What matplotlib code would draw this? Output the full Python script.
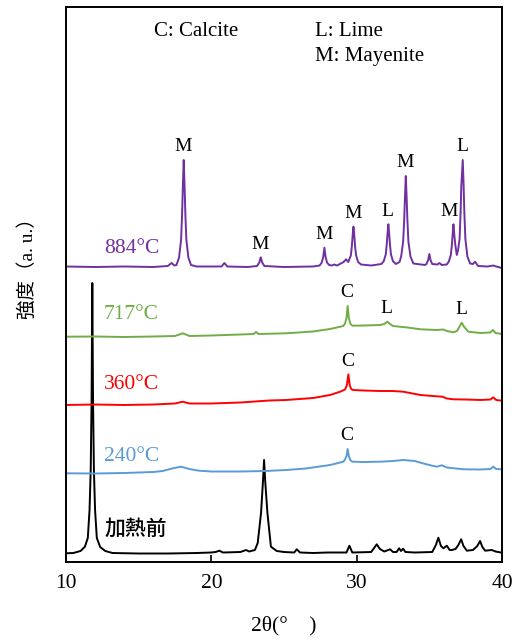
import numpy as np
import matplotlib
matplotlib.use("Agg")
import matplotlib.pyplot as plt

SERIF = ["Liberation Serif", "Noto Sans CJK JP", "DejaVu Sans"]
plt.rcParams["font.family"] = SERIF

# --- XRD traces (2theta, stacked intensity in a.u.) ---
tt_884 = [10.0, 12.0, 14.0, 16.0, 17.0, 17.27, 17.45, 17.6, 17.78, 17.92, 17.99, 18.04, 18.10,
          18.16, 18.21, 18.28, 18.42, 18.6, 19.0, 20.0, 20.7, 20.9, 21.1, 22.5, 23.15, 23.3,
          23.40, 23.5, 23.65, 25.0, 27.0, 27.45, 27.6, 27.7, 27.78, 27.86, 27.96, 28.1, 28.3,
          28.45, 28.65, 29.1, 29.27, 29.42, 29.6, 29.67, 29.72, 29.78, 29.84, 29.89, 29.96,
          30.1, 30.3, 31.0, 31.7, 31.86, 32.0, 32.07, 32.12, 32.18, 32.24, 32.29, 32.36, 32.5,
          32.7, 32.95, 33.06, 33.2, 33.27, 33.32, 33.38, 33.44, 33.49, 33.56, 33.7, 33.9, 34.7,
          34.8, 34.92, 35.0, 35.08, 35.2, 35.55, 35.7, 35.85, 36.2, 36.34, 36.48, 36.55, 36.6,
          36.66, 36.72, 36.78, 36.89, 36.98, 37.08, 37.15, 37.2, 37.30, 37.36, 37.41, 37.48,
          37.62, 37.8, 38.0, 38.15, 38.35, 39.0, 39.4, 39.6, 40.0]
int_884 = [295.5, 295.0, 295.5, 295.0, 296.0, 299.0, 296.5, 297.0, 304.5, 322.5, 349, 375.5, 402,
           375.5, 349, 322.5, 304.5, 297, 295.5, 295.5, 295.5, 299, 295.5, 295, 296, 299.5,
           304.7, 299.5, 296, 295, 295.5, 296.5, 299.5, 305, 314.3, 305, 299.5, 297, 296.5,
           297.5, 296.5, 300, 302.7, 300, 306.6, 316, 326, 335.3, 326, 316, 306.6,
           300, 297.5, 296.5, 298, 300.7, 307.5, 317.5, 327.7, 337.7, 327.7, 317.5, 307.5, 300.7,
           298, 300, 305.5, 320.5, 342, 364, 386, 364, 342, 320.5, 305.5, 298.5, 297,
           298, 302, 308, 302, 298, 297.5, 299, 297, 297.5, 300.5, 307, 317, 327,
           337.7, 327, 318, 307, 312, 323, 349, 376, 402, 376, 349, 323,
           305.5, 298.5, 298, 300.3, 296, 295.5, 296.5, 295.5, 294]

tt_717 = [10.0, 12.0, 14.0, 16.0, 17.5, 18.03, 18.5, 20.0, 22.0, 22.9, 23.08, 23.25, 25.14,
          27.0, 28.17, 29.08, 29.2, 29.3, 29.38, 29.46, 29.56, 29.7, 30.5, 31.6, 31.9, 32.1,
          32.3, 32.5, 33.5, 34.4, 35.5, 35.97, 36.2, 36.66, 36.9, 37.1, 37.23, 37.4, 37.69,
          38.5, 39.2, 39.37, 39.55, 40.0]
int_717 = [225.3, 225.5, 225.0, 225.5, 226, 228.7, 226, 226.5, 227.5, 228, 230, 228, 228.7,
           230.5, 233, 236, 238.5, 244, 256, 244, 238.5, 236.3, 236.5, 237, 238, 240.3,
           238, 236, 234.5, 232.7, 232, 232.5, 231, 229.7, 231, 236, 239.3, 235, 230.3,
           229, 229.5, 232, 229, 228]

tt_360 = [10.0, 12.0, 14.0, 16.0, 17.5, 18.03, 18.5, 20.0, 22.0, 24.0, 25.14, 27.0, 28.17,
          28.9, 29.2, 29.33, 29.43, 29.52, 29.62, 29.75, 30.5, 31.6, 32.5, 33.2, 34.4, 35.5,
          35.9, 36.2, 36.66, 37.5, 38.5, 39.2, 39.4, 39.6, 40.0]
int_360 = [157, 157.5, 157, 157.5, 158.5, 160.3, 158.5, 158.5, 159.5, 161.5, 162, 164, 167,
           170.5, 172.5, 177, 187.7, 177, 173, 172, 171.5, 171, 171, 170.3, 167, 165.7,
           165.3, 163.5, 162.7, 162.5, 162, 162.5, 164.7, 162, 161.3]

tt_240 = [10.0, 12.0, 14.0, 16.0, 16.65, 17.3, 17.9, 18.5, 19.15, 20.0, 22.0, 23.76, 25.14,
          26.5, 28.17, 29.08, 29.2, 29.3, 29.38, 29.46, 29.56, 29.7, 30.5, 31.61, 32.5, 33.2,
          34.0, 34.4, 35.0, 35.5, 35.86, 36.2, 37.35, 38.5, 39.2, 39.4, 39.6, 40.0]
int_240 = [88.7, 88.5, 89, 90, 91, 93.5, 95.3, 93, 91.3, 90.5, 90.5, 91, 92,
           93.5, 97, 100.3, 102.5, 106, 113, 106, 102, 100.3, 100, 100.3, 101, 102,
           101, 99.3, 97, 95.3, 96.7, 94.5, 92.7, 92.5, 93, 95.3, 93, 92.7]

tt_raw = [10.0, 10.5, 11.0, 11.3, 11.5, 11.62, 11.70, 11.76, 11.81, 11.86, 11.92, 12.0, 12.12,
          12.35, 12.7, 13.2, 15.0, 17.0, 19.0, 19.98, 20.3, 20.55, 20.8, 22.0, 22.39, 22.6,
          23.0, 23.19, 23.42, 23.55, 23.63, 23.71, 23.86, 24.1, 24.5, 25.0, 25.7, 25.88, 26.1,
          27.0, 28.0, 29.3, 29.5, 29.7, 31.0, 31.2, 31.38, 31.6, 31.9, 32.3, 32.5, 32.75,
          32.92, 33.05, 33.2, 33.35, 34.0, 35.2, 35.45, 35.62, 35.8, 35.97, 36.2, 36.4, 36.54,
          36.8, 37.0, 37.19, 37.35, 37.58, 38.0, 38.3, 38.49, 38.65, 38.84, 39.3, 39.55, 40.0]
int_raw = [8.7, 9.0, 11, 15.3, 24, 52, 92, 162, 279, 162, 92, 52, 24,
           15, 11, 9, 8.5, 8.5, 9, 9.5, 10, 11.3, 9.5, 10, 12, 10.5,
           12, 19, 49, 80, 102, 80, 49, 15.3, 11, 10, 9.5, 12.7, 9.5,
           9, 9.5, 9.5, 16.3, 9.5, 10, 14, 17.7, 13, 10.5, 12.7, 10, 10,
           13.7, 11, 13.3, 10, 9.5, 10, 17, 24.3, 16, 13.7, 16.3, 12, 12,
           13, 17, 22.7, 16, 11.3, 12, 16, 21, 15, 11.3, 12, 10.5, 9.3]

# peak assignments per trace: (2theta of peak, phase letter)
peaks_raw = []
peaks_240 = [(29.38, "C")]
peaks_360 = [(29.43, "C")]
peaks_717 = [(29.38, "C"), (32.1, "L"), (37.23, "L")]
peaks_884 = [(18.10, "M"), (23.40, "M"), (27.78, "M"), (29.78, "M"), (32.18, "L"),
             (33.38, "M"), (36.66, "M"), (37.30, "L")]

names = ["加熱前", "240\u00b0C", "360\u00b0C", "717\u00b0C", "884\u00b0C"]
colors = ["black", "#5B9BD5", "#FF0000", "#70AD47", "#7030A0"]
tts = [tt_raw, tt_240, tt_360, tt_717, tt_884]
ints = [int_raw, int_240, int_360, int_717, int_884]
peak_sets = [peaks_raw, peaks_240, peaks_360, peaks_717, peaks_884]
name_dy = [25.0, 17.0, 20.3, 22.4, 18.4]   # label height above each trace's left end

fig = plt.figure(figsize=(5.2, 6.42), dpi=100)
ax = fig.add_axes([66 / 520, 1 - 562 / 642, 436 / 520, 555 / 642])

for tt, yy, col, name, dy, pk in zip(tts, ints, colors, names, name_dy, peak_sets):
    ax.plot(tt, yy, color=col, lw=1.4, solid_joinstyle="round")
    if name == "加熱前":
        ax.text(12.62, yy[0] + dy, name, color=col, fontsize=15, weight="medium",
                family=["Noto Sans CJK JP"], va="center", ha="left")
    else:
        ax.text(12.6, yy[0] + dy, name, color=col, fontsize=15.5,
                va="center", ha="left")
    tt_a = np.array(tt)
    yy_a = np.array(yy)
    for p, letter in pk:
        top = yy_a[np.abs(tt_a - p) < 0.04].max()
        dx = -0.3 if (letter == "M" and abs(p - 36.66) < 0.05) else -0.05
        ax.annotate(letter, (p + dx, top), xytext=(0, 9.5), textcoords="offset points",
                    ha="center", va="center", fontsize=14)

ax.text(16.05, 531, "C: Calcite", fontsize=15, va="center", ha="left")
ax.text(27.1, 531, "L: Lime", fontsize=15, va="center", ha="left")
ax.text(27.1, 506, "M: Mayenite", fontsize=15, va="center", ha="left")

ax.set_xlim(10, 40)
ax.set_ylim(0, 555)
ax.set_xticks([10, 20, 30, 40])
ax.set_yticks([])
ax.tick_params(axis="x", direction="in", length=5, width=1.2, labelsize=15.5, pad=9)
for s in ax.spines.values():
    s.set_linewidth(1.4)

ax.set_xlabel("2\u03b8(\u00b0\u3000)", fontsize=15.5, labelpad=16)
fig.text(27 / 520, 1 - 264 / 642, "強度（a. u.）", rotation=90, fontsize=14,
         ha="center", va="center")

fig.savefig("out.png", dpi=100)
